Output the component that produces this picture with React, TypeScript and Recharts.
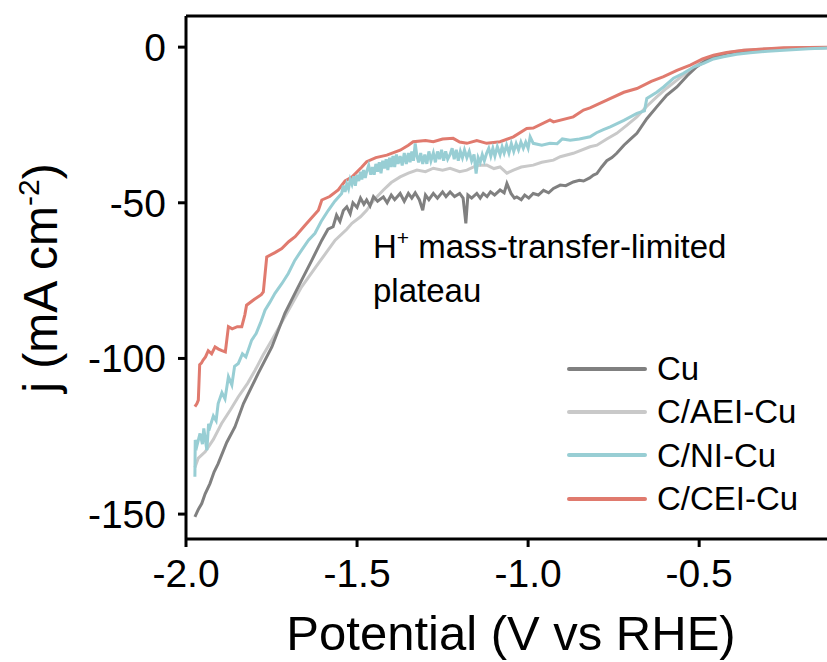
import React from 'react';
import { LineChart, Line, XAxis, YAxis, ReferenceLine, Legend } from 'recharts';

const FONT = '"Liberation Sans", Arial, Helvetica, sans-serif';

const xTicks = [-2.0, -1.5, -1.0, -0.5];
const yTicks = [0, -50, -100, -150];

const cuV = [-1.974,-1.964,-1.954,-1.944,-1.93,-1.918,-1.906,-1.881,-1.857,-1.832,-1.789,-1.749,-1.711,-1.672,-1.632,-1.603,-1.585,-1.57,-1.56,-1.55,-1.54,-1.53,-1.52,-1.512,-1.5,-1.49,-1.48,-1.472,-1.462,-1.452,-1.44,-1.423,-1.412,-1.4,-1.39,-1.374,-1.362,-1.35,-1.34,-1.33,-1.318,-1.308,-1.3,-1.29,-1.277,-1.265,-1.25,-1.24,-1.228,-1.215,-1.2,-1.19,-1.182,-1.176,-1.165,-1.15,-1.14,-1.131,-1.12,-1.11,-1.098,-1.082,-1.07,-1.062,-1.05,-1.04,-1.033,-1.02,-1.01,-0.998,-0.985,-0.97,-0.955,-0.94,-0.926,-0.906,-0.89,-0.868,-0.85,-0.838,-0.82,-0.809,-0.799,-0.785,-0.77,-0.755,-0.741,-0.72,-0.7,-0.682,-0.653,-0.624,-0.595,-0.565,-0.535,-0.507,-0.48,-0.458,-0.42,-0.39,-0.33,-0.253,-0.18,-0.1];
const cuJ = [-150.9,-148.5,-146.6,-143.5,-140.2,-136.5,-133.8,-127.0,-122.0,-114.5,-104.8,-96.3,-85.5,-77.0,-68.4,-62.0,-58.5,-57.7,-54.0,-56.0,-52.5,-51.3,-53.5,-50.0,-51.5,-48.5,-50.5,-49.1,-51.0,-48.0,-49.5,-48.1,-50.0,-47.5,-49.0,-47.0,-49.5,-47.0,-48.5,-46.8,-49.0,-52.4,-47.5,-49.0,-47.0,-48.5,-46.5,-48.0,-46.5,-48.0,-47.0,-48.5,-56.6,-47.5,-48.5,-47.0,-48.5,-47.0,-48.0,-46.5,-47.5,-45.9,-46.8,-43.8,-47.0,-48.5,-48.1,-49.0,-47.5,-48.5,-47.0,-47.5,-46.0,-46.8,-45.4,-44.3,-44.5,-43.3,-42.8,-43.0,-42.0,-41.1,-40.6,-38.5,-36.5,-35.5,-34.1,-31.5,-29.5,-27.7,-23.0,-19.2,-15.5,-12.8,-9.2,-6.3,-4.3,-3.1,-2.0,-1.5,-0.9,-0.5,-0.3,-0.2];

const aeiV = [-1.974,-1.964,-1.944,-1.92,-1.896,-1.87,-1.847,-1.82,-1.798,-1.775,-1.749,-1.711,-1.662,-1.613,-1.564,-1.53,-1.515,-1.49,-1.472,-1.45,-1.423,-1.4,-1.374,-1.35,-1.325,-1.3,-1.277,-1.25,-1.228,-1.2,-1.179,-1.15,-1.121,-1.1,-1.082,-1.062,-1.043,-1.02,-0.985,-0.96,-0.926,-0.906,-0.868,-0.819,-0.799,-0.77,-0.741,-0.71,-0.682,-0.653,-0.624,-0.595,-0.565,-0.535,-0.507,-0.48,-0.448,-0.41,-0.37,-0.3,-0.2,-0.1];
const aeiJ = [-135.0,-132.0,-130.0,-126.0,-120.9,-116.5,-112.3,-108.0,-103.8,-99.0,-94.1,-86.6,-77.0,-69.5,-62.0,-58.5,-56.6,-54.5,-52.4,-49.0,-45.9,-43.5,-41.7,-40.5,-39.5,-40.0,-38.9,-39.5,-38.9,-40.0,-39.5,-38.0,-37.9,-39.0,-38.5,-40.5,-39.5,-38.5,-37.9,-37.0,-36.3,-35.2,-34.1,-32.0,-31.5,-29.5,-27.7,-25.0,-22.4,-19.0,-16.0,-13.2,-10.6,-8.0,-5.8,-3.8,-2.6,-1.6,-1.0,-0.5,-0.2,-0.1];

const niV = [-1.974,-1.973,-1.968,-1.959,-1.952,-1.948,-1.939,-1.934,-1.93,-1.92,-1.912,-1.906,-1.895,-1.886,-1.876,-1.866,-1.858,-1.847,-1.835,-1.825,-1.808,-1.795,-1.782,-1.769,-1.755,-1.74,-1.72,-1.701,-1.682,-1.662,-1.642,-1.623,-1.605,-1.584,-1.565,
  -1.545,-1.54,-1.535,-1.53,-1.525,-1.52,-1.515,-1.51,-1.505,-1.5,-1.495,-1.49,-1.486,-1.481,-1.476,-1.472,-1.466,-1.46,-1.455,-1.45,-1.445,-1.44,-1.435,-1.43,-1.425,-1.42,-1.415,-1.41,-1.405,-1.4,-1.395,-1.39,-1.385,-1.38,-1.374,-1.368,-1.362,-1.356,-1.35,-1.345,-1.34,-1.335,-1.33,-1.325,-1.32,-1.314,-1.308,-1.302,-1.296,-1.29,-1.284,-1.277,-1.271,-1.265,-1.259,-1.253,-1.247,-1.241,-1.235,-1.228,-1.222,-1.216,-1.21,-1.204,-1.198,-1.192,-1.186,-1.179,-1.172,-1.165,-1.158,-1.152,-1.146,-1.14,-1.134,-1.128,-1.121,-1.115,-1.109,-1.103,-1.097,-1.09,-1.082,-1.076,-1.07,-1.063,-1.056,-1.049,-1.042,-1.035,-1.028,-1.021,-1.014,-1.007,-1.0,-0.994,-0.985,
  -0.96,-0.936,-0.915,-0.9,-0.877,-0.85,-0.819,-0.8,-0.78,-0.76,-0.72,-0.682,-0.66,-0.653,-0.624,-0.604,-0.575,-0.546,-0.515,-0.487,-0.458,-0.429,-0.39,-0.351,-0.3,-0.253,-0.18,-0.1];
const niJ = [-138.0,-126.2,-128.0,-124.1,-127.5,-122.5,-129.5,-121.0,-122.0,-118.5,-120.0,-114.5,-111.0,-113.0,-105.9,-108.5,-102.5,-101.6,-98.5,-99.5,-94.1,-92.0,-88.5,-84.5,-82.0,-79.1,-76.0,-72.7,-68.5,-65.2,-62.0,-59.8,-56.0,-52.4,-49.5,
  -47.0,-44.5,-46.5,-44.0,-45.5,-42.5,-44.0,-41.5,-44.5,-41.0,-43.0,-40.0,-42.5,-39.5,-42.0,-40.0,-38.0,-41.0,-38.5,-41.0,-37.5,-40.0,-37.0,-40.5,-36.5,-39.0,-36.0,-39.5,-35.5,-38.5,-35.0,-38.5,-34.5,-37.5,-35.0,-38.0,-34.0,-37.5,-34.0,-37.0,-33.5,-36.5,-30.9,-35.0,-37.0,-34.0,-37.5,-34.5,-37.5,-33.5,-36.5,-34.0,-37.0,-33.5,-36.0,-33.0,-36.5,-33.5,-36.0,-34.5,-32.5,-36.0,-33.0,-36.5,-33.5,-35.5,-33.0,-35.5,-33.5,-36.5,-34.5,-40.6,-35.5,-37.0,-34.5,-36.5,-34.0,-32.5,-35.0,-32.5,-35.0,-32.0,-34.5,-32.0,-34.0,-31.5,-34.0,-31.0,-33.5,-31.0,-33.0,-30.5,-32.5,-30.5,-32.5,-28.8,-30.9,
  -31.5,-30.9,-31.0,-29.5,-29.9,-29.5,-28.8,-27.5,-26.5,-25.6,-23.5,-21.3,-20.5,-16.5,-14.5,-12.8,-10.0,-8.4,-6.3,-5.2,-3.8,-3.1,-2.3,-1.8,-1.3,-1.0,-0.5,-0.2];

const ceiV = [-1.974,-1.968,-1.964,-1.96,-1.955,-1.95,-1.943,-1.935,-1.925,-1.915,-1.905,-1.895,-1.885,-1.876,-1.865,-1.85,-1.837,-1.828,-1.823,-1.8,-1.78,-1.774,-1.764,-1.74,-1.72,-1.7,-1.681,-1.652,-1.63,-1.613,-1.603,-1.58,-1.555,-1.535,-1.515,-1.486,-1.472,-1.445,-1.413,-1.374,-1.35,-1.336,-1.3,-1.277,-1.25,-1.219,-1.2,-1.179,-1.15,-1.121,-1.082,-1.043,-1.004,-0.985,-0.936,-0.926,-0.868,-0.838,-0.819,-0.77,-0.72,-0.682,-0.64,-0.604,-0.565,-0.526,-0.49,-0.458,-0.42,-0.37,-0.3,-0.253,-0.18,-0.1];
const ceiJ = [-115.5,-114.5,-113.4,-102.0,-101.5,-100.5,-99.5,-97.5,-98.5,-96.3,-97.0,-97.5,-97.9,-89.8,-90.5,-89.8,-89.8,-86.0,-82.9,-81.0,-79.5,-78.6,-67.4,-66.0,-64.7,-62.5,-60.9,-57.2,-54.5,-52.4,-49.1,-48.0,-45.9,-43.0,-41.7,-38.5,-36.8,-35.5,-34.7,-33.1,-31.5,-30.4,-30.0,-30.4,-29.5,-29.3,-30.5,-30.9,-30.0,-30.9,-30.4,-28.8,-26.1,-26.0,-23.4,-24.0,-22.4,-20.2,-19.5,-17.0,-14.5,-13.3,-11.0,-9.5,-7.5,-5.8,-3.8,-2.6,-1.7,-1.0,-0.5,-0.2,-0.1,0];

const seriesNames = ['Cu', 'C/AEI-Cu', 'C/NI-Cu', 'C/CEI-Cu'];
const seriesColors = ['#808080', '#c9c9c9', '#98ced4', '#e07a6e'];

const build = (v: number[], j: number[]) => v.map((x, i) => ({ x, y: j[i] }));
const cuData = build(cuV, cuJ);
const aeiData = build(aeiV, aeiJ);
const niData = build(niV, niJ);
const ceiData = build(ceiV, ceiJ);

const LegendBox = () => (
  <div style={{ fontFamily: FONT }}>
    {seriesNames.map((n, i) => (
      <div key={n} style={{ display: 'flex', alignItems: 'center', height: 43.3 }}>
        <div style={{ width: 80, height: 4, background: seriesColors[i], marginRight: 10, borderRadius: 2 }} />
        <span style={{ fontSize: 33, lineHeight: 1, color: '#000' }}>{n}</span>
      </div>
    ))}
  </div>
);

export default function App() {
  const tickStyle = { fontSize: 39, fill: '#000', fontFamily: FONT };
  return (
    <div style={{ position: 'absolute', left: 0, top: 0, width: 827, height: 662, overflow: 'hidden', background: '#fff' }}>
      <LineChart width={840} height={662} margin={{ top: 16, right: 4, bottom: 63, left: 86 }}>
        <XAxis
          type="number"
          dataKey="x"
          domain={[-2, -0.1]}
          ticks={xTicks}
          allowDataOverflow
          tickFormatter={(v: number) => v.toFixed(1)}
          height={60}
          tick={tickStyle}
          tickSize={8}
          tickMargin={12}
          tickLine={{ stroke: '#000', strokeWidth: 3 }}
          axisLine={{ stroke: '#000', strokeWidth: 3 }}
        />
        <YAxis
          type="number"
          domain={[-158, 10]}
          ticks={yTicks}
          allowDataOverflow
          width={100}
          tick={tickStyle}
          tickSize={8}
          tickMargin={12}
          tickLine={{ stroke: '#000', strokeWidth: 3 }}
          axisLine={{ stroke: '#000', strokeWidth: 3 }}
        />
        <ReferenceLine y={10} stroke="#000" strokeWidth={3} />
        <Line data={aeiData} dataKey="y" name={seriesNames[1]} stroke={seriesColors[1]} strokeWidth={3} dot={false} isAnimationActive={false} />
        <Line data={cuData} dataKey="y" name={seriesNames[0]} stroke={seriesColors[0]} strokeWidth={3} dot={false} isAnimationActive={false} />
        <Line data={ceiData} dataKey="y" name={seriesNames[3]} stroke={seriesColors[3]} strokeWidth={3} dot={false} isAnimationActive={false} />
        <Line data={niData} dataKey="y" name={seriesNames[2]} stroke={seriesColors[2]} strokeWidth={3} dot={false} isAnimationActive={false} />
        <Legend
          layout="vertical"
          align="center"
          verticalAlign="middle"
          content={() => <LegendBox />}
          wrapperStyle={{ left: 567, top: 347, width: 250, height: 175 }}
        />
      </LineChart>
      <svg width={827} height={662} style={{ position: 'absolute', left: 0, top: 0, pointerEvents: 'none' }}>
        <text transform="translate(57,278) rotate(-90)" textAnchor="middle" fontFamily={FONT} fontSize={48} fill="#000">
          j (mA cm<tspan dy={-18} fontSize={30}>-2</tspan><tspan dy={18}>)</tspan>
        </text>
        <text x={511} y={650} textAnchor="middle" fontFamily={FONT} fontSize={49} fill="#000">Potential (V vs RHE)</text>
        <text x={373} y={258} fontFamily={FONT} fontSize={33} fill="#000">
          H<tspan dy={-13} fontSize={21}>+</tspan><tspan dy={13}> mass-transfer-limited</tspan>
        </text>
        <text x={373} y={302} fontFamily={FONT} fontSize={33} fill="#000">plateau</text>
      </svg>
    </div>
  );
}
